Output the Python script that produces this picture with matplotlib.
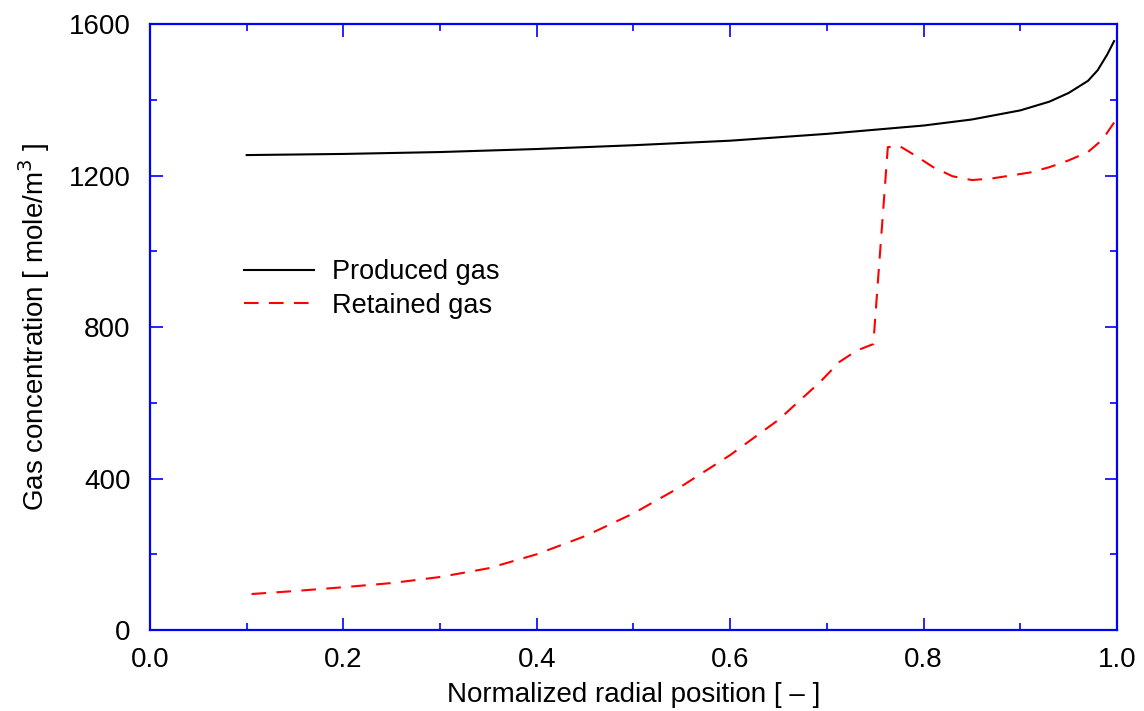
import numpy as np
import matplotlib.pyplot as plt
from matplotlib.ticker import MultipleLocator

plt.rcParams['font.family'] = ['Liberation Sans', 'DejaVu Sans']

# Produced gas along the radius
x_prod = [0.1, 0.2, 0.3, 0.4, 0.5, 0.6, 0.7, 0.8, 0.85, 0.9, 0.93, 0.95,
          0.97, 0.98, 0.99, 0.997]
produced = [1254, 1257, 1262, 1270, 1280, 1292, 1310, 1332, 1348, 1372, 1395,
            1418, 1450, 1478, 1520, 1555]

# Retained gas along the radius
x_ret = [0.105, 0.15, 0.2, 0.25, 0.3, 0.35, 0.4, 0.45, 0.5, 0.55, 0.6, 0.65,
         0.693, 0.713, 0.731, 0.748, 0.763, 0.775, 0.79, 0.81, 0.83, 0.85,
         0.87, 0.89, 0.91, 0.93, 0.95, 0.97, 0.985, 0.997]
retained = [95, 103, 113, 124, 140, 163, 200, 248, 308, 380, 462, 555,
            655, 708, 738, 755, 1275, 1278, 1255, 1222, 1198, 1188,
            1192, 1200, 1208, 1222, 1240, 1262, 1295, 1340]

fig = plt.figure(figsize=(11.44, 7.11), dpi=100)
ax = fig.add_axes([0.1311, 0.1139, 0.8453, 0.8523])

ax.plot(x_prod, produced, color='black', lw=1.5, label='Produced gas')
ax.plot(x_ret, retained, color='red', lw=1.5, dashes=(7, 5), label='Retained gas')

ax.set_xlim(0, 1)
ax.set_ylim(0, 1600)
ax.xaxis.set_major_locator(MultipleLocator(0.2))
ax.xaxis.set_minor_locator(MultipleLocator(0.1))
ax.yaxis.set_major_locator(MultipleLocator(400))
ax.yaxis.set_minor_locator(MultipleLocator(200))
ax.xaxis.set_major_formatter(plt.FormatStrFormatter('%.1f'))

for s in ax.spines.values():
    s.set_color('blue')
    s.set_linewidth(1.6)
ax.tick_params(which='both', direction='in', top=True, right=True,
               color='blue', width=1.2, labelsize=20)
ax.tick_params(axis='y', pad=14)
ax.tick_params(axis='x', pad=12)
ax.tick_params(which='major', length=9)
ax.tick_params(which='minor', length=5)

ax.set_xlabel('Normalized radial position [ \u2013 ]', fontsize=20, labelpad=7)
ax.set_ylabel('Gas concentration [ mole/m$^3$ ]', fontsize=20, labelpad=12)

ax.legend(loc='upper left', bbox_to_anchor=(0.072, 0.652), frameon=False,
          fontsize=19.5, handlelength=2.6, handletextpad=0.65, labelspacing=0.28)

fig.savefig('out.png', dpi=100)
